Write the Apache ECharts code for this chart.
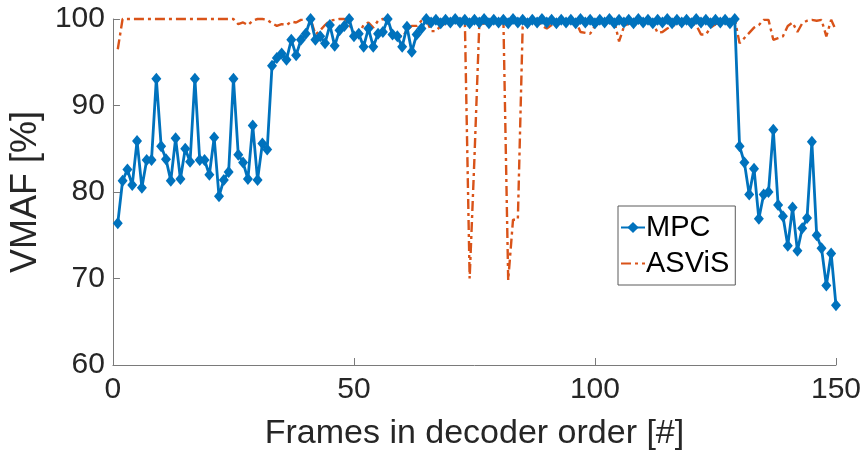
<!DOCTYPE html>
<html>
<head>
<meta charset="utf-8">
<script src="https://cdn.jsdelivr.net/npm/echarts@6/dist/echarts.min.js"></script>
<style>
  html, body { margin: 0; padding: 0; background: #fff; }
  #chart { width: 864px; height: 456px; }
</style>
</head>
<body>
<div id="chart"></div>
<script>
// VMAF per frame, frames 1..150
const mpc = [
  76.4, 81.3, 82.6, 80.8, 85.9, 80.5, 83.7, 83.7, 93.1, 85.3,
  83.8, 81.3, 86.2, 81.5, 85.0, 83.5, 93.1, 83.7, 83.7, 82.0,
  86.3, 79.5, 81.4, 82.3, 93.1, 84.3, 83.4, 81.5, 87.7, 81.4,
  85.6, 84.9, 94.6, 95.5, 96.0, 95.3, 97.6, 95.8, 97.6, 98.3,
  100.0, 97.6, 98.0, 97.2, 99.3, 96.9, 98.7, 99.2, 100.0, 98.0,
  98.3, 96.8, 98.9, 96.8, 98.3, 98.5, 100.0, 98.2, 98.0, 96.8,
  99.1, 96.2, 98.2, 98.9, 100.0, 99.6, 99.9, 99.5, 99.9, 99.6,
  100.0, 99.6, 99.9, 99.5, 99.9, 99.6, 100.0, 99.5, 99.9, 99.6,
  99.9, 99.5, 100.0, 99.6, 99.9, 99.5, 99.9, 99.6, 100.0, 99.6,
  99.9, 99.5, 99.9, 99.6, 99.9, 99.5, 100.0, 99.6, 99.9, 99.5,
  99.9, 99.6, 100.0, 99.5, 99.9, 99.6, 99.9, 99.5, 100.0, 99.6,
  99.9, 99.5, 99.9, 99.6, 100.0, 99.5, 99.9, 99.6, 99.9, 99.5,
  100.0, 99.6, 99.9, 99.5, 99.9, 99.6, 99.9, 99.5, 100.0, 85.3,
  83.4, 79.7, 82.7, 76.9, 79.7, 80.0, 87.2, 78.5, 77.2, 73.8,
  78.2, 73.2, 75.8, 77.0, 85.8, 75.0, 73.5, 69.2, 72.9, 66.9
];

const asvis = [
  96.5, 100, 100, 100, 100, 100, 100, 100, 100, 100,
  100, 100, 100, 100, 100, 100, 100, 100, 100, 100,
  100, 100, 100, 100, 100, 99.4, 99.6, 99.3, 99.8, 100,
  100, 99.9, 99.5, 99.2, 99.4, 99.3, 99.7, 99.6, 99.9, 99.9,
  100, 98.2, 98.7, 99.3, 99.8, 99.9, 100, 100, 99.4, 98.3,
  98.3, 99.3, 99.6, 99.0, 99.8, 100, 99.8, 98.2, 98.2, 97.9,
  98.7, 99.2, 99.2, 99.8, 100, 98.6, 98.6, 99.2, 99.5, 99.7,
  99.8, 100, 100, 70.0, 84.0, 99.3, 99.5, 99.6, 99.8, 99.9,
  100, 69.8, 76.8, 76.8, 99.1, 99.5, 99.7, 99.8, 99.2, 98.9,
  99.3, 99.5, 99.6, 99.9, 100, 99.8, 98.5, 98.4, 98.3, 99.2,
  99.6, 99.8, 99.8, 99.8, 97.4, 99.1, 99.5, 99.5, 99.6, 99.6,
  99.8, 99.6, 98.4, 98.5, 98.9, 99.2, 99.4, 99.4, 99.6, 99.5,
  99.3, 98.2, 98.2, 99.0, 99.4, 99.6, 99.7, 99.8, 100, 97.2,
  97.8, 98.4, 99.0, 99.3, 99.9, 99.9, 97.6, 97.8, 98.0, 99.2,
  99.6, 98.5, 99.5, 99.8, 99.9, 99.8, 99.9, 98.0, 99.9, 98.7
];

const xTicks = [0, 50, 100, 150];
const yTicks = [60, 70, 80, 90, 100];

const toPairs = arr => arr.map((v, i) => [i + 1, v]);

const textColor = '#262626';
const axisColor = '#7a7a7a';
const font = 'Liberation Sans, Arial, Helvetica, sans-serif';

const chart = echarts.init(document.getElementById('chart'));
chart.setOption({
  animation: false,
  backgroundColor: '#fff',
  textStyle: { fontFamily: font },
  grid: { left: 108, right: 26, top: 19, bottom: 91 },
  xAxis: {
    type: 'value',
    min: xTicks[0],
    max: xTicks[xTicks.length - 1],
    interval: 50,
    name: 'Frames in decoder order [#]',
    nameLocation: 'middle',
    nameGap: 52,
    nameTextStyle: { fontSize: 34, color: textColor, fontFamily: font },
    axisLine: { lineStyle: { color: axisColor, width: 1 } },
    axisTick: { inside: true, length: 7, lineStyle: { color: axisColor } },
    axisLabel: { fontSize: 30, color: textColor, margin: 10, fontFamily: font },
    splitLine: { show: false }
  },
  yAxis: {
    type: 'value',
    min: yTicks[0],
    max: yTicks[yTicks.length - 1],
    interval: 10,
    name: 'VMAF [%]',
    nameLocation: 'middle',
    nameRotate: 90,
    nameGap: 60,
    nameTextStyle: { fontSize: 36, color: textColor, fontFamily: font },
    axisLine: { show: true, lineStyle: { color: axisColor, width: 1 } },
    axisTick: { show: true, inside: true, length: 7, lineStyle: { color: axisColor } },
    axisLabel: { fontSize: 30, color: textColor, margin: 8, fontFamily: font },
    splitLine: { show: false }
  },
  legend: {
    orient: 'vertical',
    left: 618,
    top: 206,
    padding: [7, 6, 7, 2],
    itemGap: 7,
    itemWidth: 24,
    itemHeight: 14,
    backgroundColor: '#fff',
    borderColor: '#5a5a5a',
    borderWidth: 1,
    textStyle: { fontSize: 29, color: '#000', fontFamily: font, padding: [0, 0, 0, -4] },
    data: [
      { name: 'MPC' },
      { name: 'ASViS', itemStyle: { opacity: 0 } }
    ]
  },
  series: [
    {
      name: 'ASViS',
      type: 'line',
      data: toPairs(asvis),
      symbol: 'none',
      clip: false,
      z: 2,
      lineStyle: { color: '#D95319', width: 2.4, type: [10, 4, 3, 4] },
      itemStyle: { color: '#D95319' }
    },
    {
      name: 'MPC',
      type: 'line',
      data: toPairs(mpc),
      symbol: 'diamond',
      symbolSize: [10, 12],
      clip: false,
      z: 3,
      lineStyle: { color: '#0072BD', width: 2.8 },
      itemStyle: { color: '#0072BD' }
    }
  ]
});
</script>
</body>
</html>
